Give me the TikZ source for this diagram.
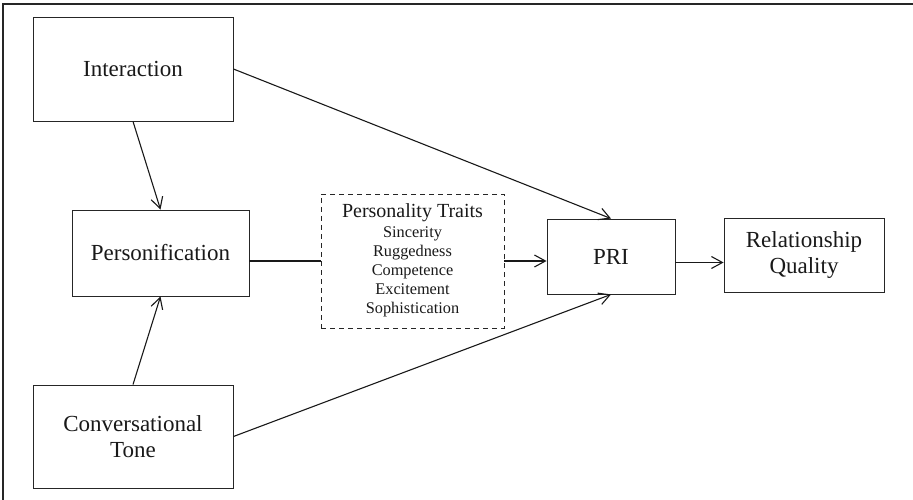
\documentclass[tikz,border=0pt]{standalone}
\usepackage{fontspec}
\setmainfont{Liberation Serif}
\usetikzlibrary{arrows.meta}
\begin{document}
\begin{tikzpicture}[x=1pt,y=-1pt,
  box/.style={draw=black!85,line width=0.9pt,inner sep=0pt,align=center,
    font=\fontsize{23}{26.5}\selectfont,text=black!90},
  dbox/.style={draw=black!85,line width=0.9pt,inner sep=0pt,dashed,dash pattern=on 5pt off 4pt,
    font=\fontsize{16.3}{19}\selectfont,text=black!90},
  conn/.style={line width=1.1pt,black!90},
  arr/.style={conn,-{Straight Barb[length=11pt,width=12pt,line width=1.1pt]}}]
\useasboundingbox (0,0) rectangle (913,500);
\draw[line width=1.4pt,black!85] (3,500) -- (3,4) -- (913,4);
\node[box,minimum width=200pt,minimum height=104pt] (int) at (133,69) {Interaction};
\node[box,minimum width=177pt,minimum height=86pt] (pers) at (160.5,253) {Personification};
\node[box,minimum width=200pt,minimum height=103pt] (ct) at (133,436.5) {Conversational\\Tone};
\node[dbox,minimum width=183pt,minimum height=134pt] (traits) at (412.5,261)
  {\renewcommand{\arraystretch}{1}\setlength{\tabcolsep}{0pt}%
   \begin{tabular}{c}
   \fontsize{20}{22}\selectfont Personality Traits\\[1pt]
   Sincerity\\ Ruggedness\\ Competence\\ Excitement\\ Sophistication
   \end{tabular}};
\node[box,minimum width=128pt,minimum height=75pt] (pri) at (611,256.5) {PRI};
\node[box,minimum width=160pt,minimum height=74pt] (rq) at (804,255) {Relationship\\Quality};
\draw[arr] (int.south) -- (pers.north);
\draw[arr] (ct.north) -- (pers.south);
\draw[conn] (traits.west -| pers.east) -- (traits.west);
\draw[arr] (traits.east) -- (traits.east -| pri.west);
\draw[arr] ([yshift=-6pt]pri.east) -- ([yshift=-6pt]pri.east -| rq.west);
\draw[arr] (int.east) -- (pri.north);
\draw[arr] (ct.east) -- (pri.south);
\end{tikzpicture}
\end{document}
